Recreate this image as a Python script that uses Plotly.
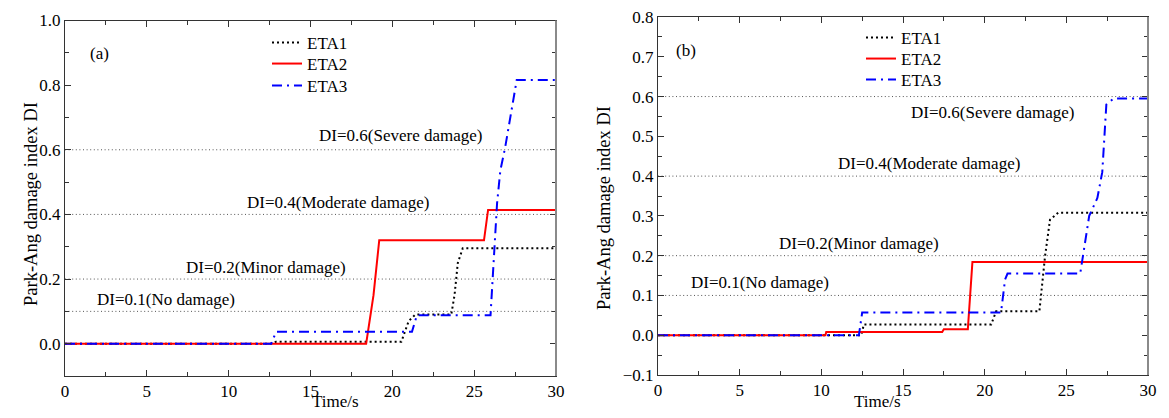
import plotly.graph_objects as go

# ---------------- data ----------------
a_eta1_t = [0, 12.6, 12.9, 20.55, 21.0, 21.4, 23.6, 23.8, 24.0, 24.3, 30]
a_eta1_di = [0, 0, 0.006, 0.006, 0.07, 0.09, 0.09, 0.15, 0.25, 0.295, 0.295]
a_eta2_t = [0, 18.4, 18.85, 19.2, 25.6, 25.85, 30]
a_eta2_di = [0, 0, 0.15, 0.32, 0.32, 0.414, 0.414]
a_eta3_t = [0, 12.6, 12.9, 21.2, 21.5, 26.0, 26.4, 26.6, 26.9, 27.6, 30]
a_eta3_di = [0, 0, 0.037, 0.037, 0.088, 0.088, 0.435, 0.536, 0.609, 0.816, 0.816]

b_eta1_t = [0, 12.45, 12.6, 20.4, 20.7, 23.35, 23.7, 24.0, 24.5, 30]
b_eta1_di = [0, 0, 0.027, 0.027, 0.06, 0.06, 0.2, 0.29, 0.308, 0.308]
b_eta2_t = [0, 10.25, 10.3, 17.4, 17.5, 18.97, 19.25, 30]
b_eta2_di = [0, 0, 0.008, 0.008, 0.015, 0.015, 0.184, 0.184]
b_eta3_t = [0, 12.3, 12.5, 21.0, 21.25, 21.4, 25.85, 26.4, 26.9, 27.2, 27.45, 27.9, 30]
b_eta3_di = [0, 0, 0.057, 0.057, 0.14, 0.155, 0.155, 0.3, 0.345, 0.41, 0.58, 0.595, 0.595]

series_names = ["ETA1", "ETA2", "ETA3"]
thresholds = [0.1, 0.2, 0.4, 0.6]
threshold_labels = ["DI=0.1(No damage)", "DI=0.2(Minor damage)",
                    "DI=0.4(Moderate damage)", "DI=0.6(Severe damage)"]
a_label_x = [6.2, 12.3, 16.7, 20.5]
a_label_y = [0.138, 0.236, 0.438, 0.645]
b_label_x = [6.26, 12.3, 16.6, 20.5]
b_label_y = [0.133, 0.23, 0.431, 0.559]

x_title = "Time/s"
y_title = "Park-Ang damage index DI"

FONT = "Liberation Serif"
FS = 17
styles = [
    dict(color="black", width=2, dash="2px,3px"),
    dict(color="#ff0000", width=2, dash="solid"),
    dict(color="#0000ff", width=2, dash="10px,5px,2px,5px"),
]

fig = go.Figure()

# one legend box per entry so rows can be spaced like the original
panels = [
    ("x", "y", ["legend", "legend2", "legend3"],
     [(a_eta1_t, a_eta1_di), (a_eta2_t, a_eta2_di), (a_eta3_t, a_eta3_di)]),
    ("x2", "y2", ["legend4", "legend5", "legend6"],
     [(b_eta1_t, b_eta1_di), (b_eta2_t, b_eta2_di), (b_eta3_t, b_eta3_di)]),
]
for xa, ya, lgs, data in panels:
    for name, (t, d), st, lg in zip(series_names, data, styles, lgs):
        fig.add_trace(go.Scatter(x=t, y=d, mode="lines", name=name, line=st,
                                 xaxis=xa, yaxis=ya, legend=lg))

# threshold lines
for xr, yr in [("x domain", "y"), ("x2 domain", "y2")]:
    for th in thresholds:
        fig.add_shape(type="line", xref=xr, yref=yr, x0=0, x1=1, y0=th, y1=th,
                      line=dict(color="#555555", width=1, dash="1px,2.6px"), layer="below")
    # thicker grey right frame edge
    fig.add_shape(type="line", xref=xr, yref=yr + " domain", x0=1, x1=1, y0=0, y1=1,
                  line=dict(color="#8a8a8a", width=2), layer="above")

ann = []
for lx, ly, xr, yr in [(a_label_x, a_label_y, "x", "y"), (b_label_x, b_label_y, "x2", "y2")]:
    for txt, x, y in zip(threshold_labels, lx, ly):
        ann.append(dict(text=txt, x=x, y=y, xref=xr, yref=yr, showarrow=False,
                        font=dict(family=FONT, size=FS, color="black")))

# panel tags, axis titles
ann += [
    dict(text="(a)", x=88 / 1169, y=1 - 42 / 418, xref="paper", yref="paper", showarrow=False,
         font=dict(family=FONT, size=FS, color="black")),
    dict(text="(b)", x=686 / 1169, y=1 - 39 / 418, xref="paper", yref="paper", showarrow=False,
         font=dict(family=FONT, size=FS, color="black")),
    dict(text=x_title, x=310 / 1169, y=1 - 413 / 418, xref="paper", yref="paper", showarrow=False,
         font=dict(family=FONT, size=FS, color="black")),
    dict(text=x_title, x=903 / 1169, y=1 - 413 / 418, xref="paper", yref="paper", showarrow=False,
         font=dict(family=FONT, size=FS, color="black")),
    dict(text=y_title, x=19 / 1169, y=1 - 204 / 418, xref="paper", yref="paper", showarrow=False,
         textangle=-90, font=dict(family=FONT, size=18.5, color="black")),
    dict(text=y_title, x=604 / 1169, y=1 - 208 / 418, xref="paper", yref="paper", showarrow=False,
         textangle=-90, font=dict(family=FONT, size=18.5, color="black")),
]

axis_common = dict(showline=True, linecolor="#333333", linewidth=1, mirror="allticks",
                   ticks="inside", ticklen=6, tickcolor="#333333", showgrid=False, zeroline=False,
                   automargin=False, tickfont=dict(family=FONT, size=FS, color="black"))
minor_common = dict(ticks="inside", ticklen=4, tickcolor="#333333", showgrid=False)


def leg(xpx, ypx):
    return dict(x=xpx / 1169, y=1 - ypx / 418, xanchor="left", yanchor="middle",
                bgcolor="rgba(0,0,0,0)", borderwidth=0, font=dict(family=FONT, size=FS))


fig.update_layout(
    template="none",
    width=1169, height=418, margin=dict(l=0, r=0, t=0, b=0, autoexpand=False),
    paper_bgcolor="white", plot_bgcolor="white",
    font=dict(family=FONT, size=FS, color="black"),
    xaxis=dict(domain=[65 / 1169, 556 / 1169], range=[0, 30], tick0=0, dtick=5, anchor="y",
               minor=dict(dtick=2.5, tick0=0, **minor_common), **axis_common),
    yaxis=dict(domain=[1 - 376 / 418, 1 - 20.5 / 418], range=[-0.1, 1.0], tick0=0, dtick=0.2,
               tickformat=".1f", anchor="x",
               minor=dict(dtick=0.1, tick0=0, **minor_common), **axis_common),
    xaxis2=dict(domain=[658 / 1169, 1148 / 1169], range=[0, 30], tick0=0, dtick=5, anchor="y2",
                minor=dict(dtick=2.5, tick0=0, **minor_common), **axis_common),
    yaxis2=dict(domain=[1 - 375 / 418, 1 - 17 / 418], range=[-0.1, 0.8], tick0=0, dtick=0.1,
                tickformat=".1f", anchor="x2",
                minor=dict(dtick=0.05, tick0=0, **minor_common), **axis_common),
    legend=leg(267, 43), legend2=leg(267, 64), legend3=leg(267, 86),
    legend4=leg(861, 38), legend5=leg(861, 59), legend6=leg(861, 80),
    annotations=ann,
    showlegend=True,
)

fig.write_html("out.html", config={"displayModeBar": False},
               post_script="document.body.style.margin='0px';")
